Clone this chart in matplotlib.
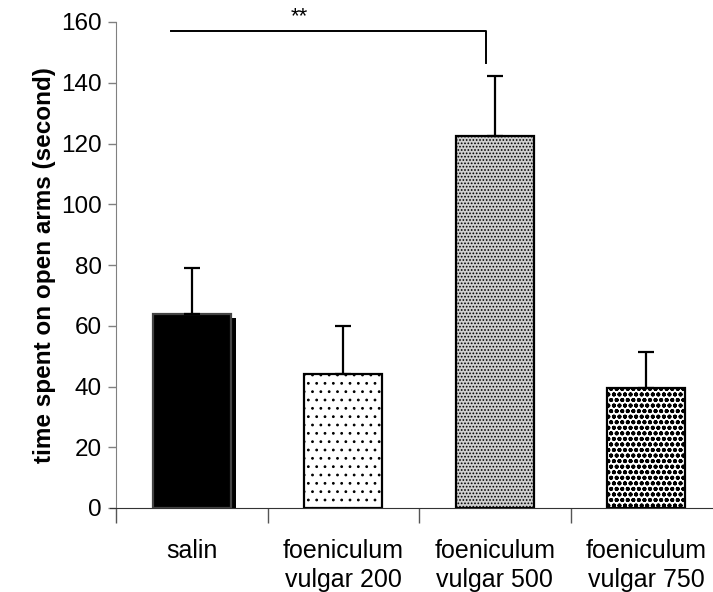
import numpy as np
import matplotlib.pyplot as plt

plt.rcParams['font.family'] = ['Liberation Sans', 'DejaVu Sans']

# data
groups = ['salin', 'foeniculum\nvulgar 200', 'foeniculum\nvulgar 500', 'foeniculum\nvulgar 750']
means = [63.8, 44.1, 122.5, 39.5]
sem = [15.2, 15.8, 19.7, 11.9]
yticks = [0, 20, 40, 60, 80, 100, 120, 140, 160]

fig = plt.figure(figsize=(7.13, 5.92), dpi=100)
ax = fig.add_axes([116/713, 84/592, 606/713, 486/592])

x = np.arange(len(groups))
w = 0.515

# shadow behind the black bar
ax.bar(x[0] + 0.033, means[0] - 1.2, w, color='black', zorder=1)

faces = ['black', 'white', '#cfcfcf', 'white']
hatches = [None, '..', '.....', 'ooo']
hlw = [1.0, 0.8, 0.8, 1.3]
bars = ax.bar(x, means, w, color=faces, edgecolor='black', linewidth=1.6, zorder=2)
for b, h, lw in zip(bars, hatches, hlw):
    if h:
        b.set_hatch(h)
        if hasattr(b, 'set_hatch_linewidth'):
            b.set_hatch_linewidth(lw)
bars[0].set_edgecolor('#444444')

ax.errorbar(x, means, yerr=[np.zeros(len(sem)), sem], fmt='none', ecolor='black',
            elinewidth=1.6, capsize=5.8, capthick=1.6, zorder=3)

# significance bracket
ax.plot([-0.14, 1.94, 1.94], [157, 157, 146.5], color='black', lw=1.4, clip_on=False)
ax.text(0.71, 158.3, '**', ha='center', va='bottom', fontsize=16, clip_on=False)

ax.set_xlim(-0.5, 3.5)
ax.set_ylim(0, 160)
ax.set_yticks(yticks)
ax.tick_params(axis='y', labelsize=17.5, length=6, width=1, colors='#808080', labelcolor='black', pad=4)

ax.set_xticks(np.arange(-0.5, 3.6, 1.0))
ax.set_xticklabels([])
ax.tick_params(axis='x', which='major', length=11, width=1, colors='#555555')
ax.set_xticks(x, minor=True)
ax.set_xticklabels(groups, minor=True)
ax.tick_params(axis='x', which='minor', length=0, labelsize=18, pad=22)
for t in ax.get_xticklabels(minor=True):
    t.set_linespacing(1.3)

for s in ['top', 'right']:
    ax.spines[s].set_visible(False)
ax.spines['left'].set_color('#808080')
ax.spines['bottom'].set_color('#333333')
ax.spines['bottom'].set_bounds(-0.54, 3.5)

ax.set_ylabel('time spent on open arms (second)', fontsize=17.5, fontweight='bold', labelpad=4)

fig.savefig('out.png', dpi=100)
